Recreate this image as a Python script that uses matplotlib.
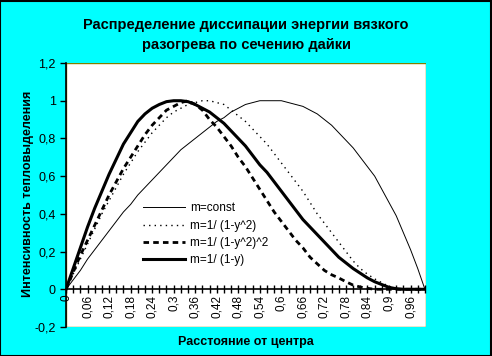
import matplotlib
matplotlib.use("Agg")
import matplotlib.pyplot as plt
import numpy as np
from matplotlib.patches import Rectangle

plt.rcParams['font.family'] = ['Liberation Sans', 'DejaVu Sans']

# расстояние от центра, шаг 0,02
x = np.round(np.arange(0, 51) * 0.02, 2)

m_const = [0, 0.05, 0.10, 0.16, 0.21, 0.26, 0.31, 0.36, 0.41, 0.45,
           0.50, 0.54, 0.58, 0.62, 0.66, 0.70, 0.74, 0.77, 0.80, 0.83,
           0.86, 0.89, 0.91, 0.94, 0.96, 0.98, 0.99, 1.00, 1.00, 1.00,
           1.00, 0.99, 0.98, 0.97, 0.95, 0.93, 0.90, 0.87, 0.83, 0.79,
           0.75, 0.70, 0.65, 0.60, 0.53, 0.46, 0.39, 0.30, 0.21, 0.11,
           0.00]

m_y2 = [0, 0.08, 0.16, 0.24, 0.32, 0.40, 0.47, 0.54, 0.61, 0.67,
        0.73, 0.78, 0.83, 0.87, 0.91, 0.94, 0.96, 0.98, 0.99, 1.00,
        1.00, 0.99, 0.98, 0.95, 0.92, 0.89, 0.85, 0.81, 0.77, 0.72,
        0.67, 0.62, 0.57, 0.52, 0.46, 0.40, 0.35, 0.30, 0.25, 0.20,
        0.15, 0.11, 0.08, 0.055, 0.035, 0.015, 0.005, 0, 0, 0,
        0]

m_y2sq = [0, 0.09, 0.18, 0.26, 0.34, 0.42, 0.50, 0.57, 0.64, 0.70,
          0.76, 0.82, 0.87, 0.91, 0.95, 0.97, 0.99, 1.00, 0.98, 0.95,
          0.90, 0.86, 0.81, 0.76, 0.70, 0.65, 0.59, 0.53, 0.47, 0.41,
          0.36, 0.31, 0.26, 0.22, 0.17, 0.135, 0.10, 0.077, 0.06, 0.04,
          0.022, 0.012, 0.005, 0, 0, 0, 0, 0, 0, 0,
          0]

m_y = [0, 0.11, 0.22, 0.33, 0.43, 0.52, 0.61, 0.69, 0.77, 0.83,
       0.89, 0.93, 0.96, 0.98, 0.995, 1.00, 1.00, 0.995, 0.98, 0.96,
       0.94, 0.91, 0.88, 0.84, 0.80, 0.76, 0.71, 0.66, 0.62, 0.57,
       0.52, 0.47, 0.42, 0.37, 0.33, 0.29, 0.25, 0.21, 0.17, 0.14,
       0.11, 0.085, 0.06, 0.04, 0.025, 0.01, 0.003, 0, 0, 0,
       0]

fig = plt.figure(figsize=(4.92, 3.56), dpi=100, facecolor='#00ffff')
fig.patches.append(Rectangle((0.001, 0.001), 0.997, 0.996, transform=fig.transFigure,
                             fill=False, edgecolor='black', linewidth=1.5))
ax = fig.add_axes([66 / 492, 1 - 327 / 356, 360 / 492, 264 / 356])
ax.set_facecolor('white')

ax.plot(x, m_const, color='black', lw=0.7, label='m=const')
ax.plot(x, m_y2, color='black', lw=1.0, linestyle=(0, (1, 3)), label='m=1/ (1-y^2)')
ax.plot(x, m_y2sq, color='black', lw=2.0, linestyle=(0, (2, 1.5)), label='m=1/ (1-y^2)^2')
ax.plot(x, m_y, color='black', lw=2.2, label='m=1/ (1-y)')

ax.set_xlim(0, 1.003)
ax.set_ylim(-0.2, 1.2)

ax.spines['top'].set_visible(False)
ax.spines['right'].set_visible(False)
ax.spines['bottom'].set_position(('data', 0))
ax.spines['bottom'].set_bounds(0, 1.0)
ax.spines['left'].set_linewidth(1.2)
ax.spines['bottom'].set_linewidth(1.2)
ax.add_patch(Rectangle((0, 0), 1, 1, transform=ax.transAxes, fill=False,
                       edgecolor='#808000', linewidth=1.0, zorder=0.5))

ax.set_xticks(x, minor=True)
xt = x[::3]
ax.set_xticks(xt)
ax.set_xticklabels([('%g' % v).replace('.', ',') for v in xt], rotation=90, fontsize=8.5)
ax.tick_params(axis='x', which='both', direction='inout', length=6, width=1)
ax.tick_params(axis='x', which='major', pad=1)

yt = np.round(np.arange(-0.2, 1.21, 0.2), 1)
ax.set_yticks(yt)
ax.set_yticklabels([('%g' % v).replace('.', ',') for v in yt], fontsize=9)
ax.tick_params(axis='y', direction='out', length=4, width=1)

leg = ax.legend(loc='upper left', bbox_to_anchor=(0.2, 0.49), frameon=False,
                fontsize=8.5, handlelength=3.6, handletextpad=0.4, labelspacing=0.45,
                borderaxespad=0)

fig.text(0.5, 1 - 25 / 356, 'Распределение диссипации энергии вязкого',
         ha='center', va='center', fontsize=10.5, fontweight='bold')
fig.text(0.5, 1 - 45 / 356, 'разогрева по сечению дайки',
         ha='center', va='center', fontsize=10.5, fontweight='bold')
fig.text(0.5, 1 - 342 / 356, 'Расстояние от центра',
         ha='center', va='center', fontsize=9, fontweight='bold')
fig.text(28 / 492, 1 - 194 / 356, 'Интенсивность тепловыделения',
         ha='center', va='center', rotation=90, fontsize=9, fontweight='bold')

fig.savefig('out.png', dpi=100, facecolor=fig.get_facecolor())
